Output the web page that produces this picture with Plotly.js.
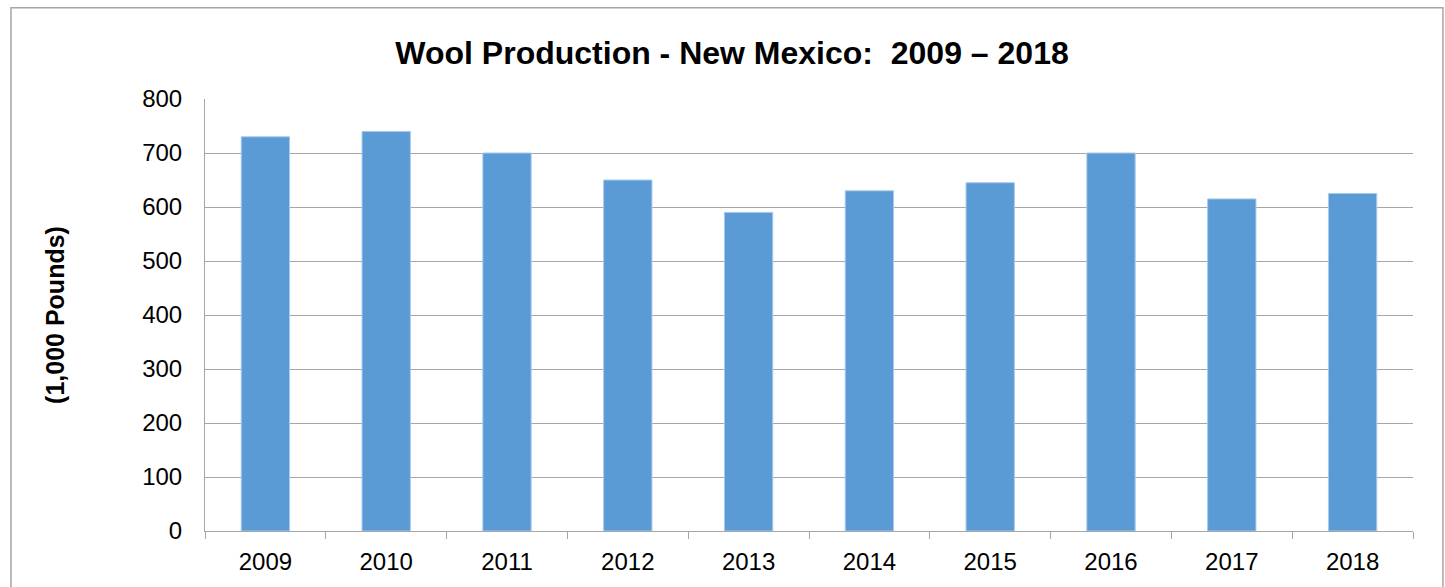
<!DOCTYPE html>
<html>
<head>
<meta charset="utf-8">
<script src="https://cdn.plot.ly/plotly-3.0.1.min.js"></script>
<style>
  body { margin: 0; background: #fff; }
  #plot { width: 1445px; height: 587px; }
</style>
</head>
<body>
<div id="plot"></div>
<script>
const years = ['2009', '2010', '2011', '2012', '2013', '2014', '2015', '2016', '2017', '2018'];
const wool = [730, 740, 700, 650, 590, 630, 645, 700, 615, 625];
const yTicks = [0, 100, 200, 300, 400, 500, 600, 700, 800];

const FONT = 'Liberation Sans, Arial, sans-serif';

let bars = {
    name: 'Wool',
    x: years,
    y: wool,
    type: 'bar',
    marker: {
        color: '#5b9bd5',
        line: { color: '#a9c9ea', width: 1 }
    },
    hoverinfo: 'x+y'
};

let layout = {
    width: 1445,
    height: 587,
    paper_bgcolor: '#ffffff',
    plot_bgcolor: '#ffffff',
    showlegend: false,
    bargap: 0.6,
    font: { family: FONT, size: 24, color: '#000000' },
    // title sits over the centre of the outer box, not the plot area
    title: {
        text: '<b>Wool Production - New Mexico:  2009 – 2018</b>',
        font: { family: FONT, size: 32, color: '#000000' },
        x: 0.5066,
        xref: 'container',
        xanchor: 'center',
        y: 0.91,
        yanchor: 'middle'
    },
    margin: { l: 205, r: 32, t: 99, b: 56 },
    xaxis: {
        type: 'category',
        showline: true,
        linecolor: '#a6a6a6',
        linewidth: 1,
        ticks: 'outside',
        tickson: 'boundaries',
        ticklen: 7,
        tickcolor: '#a6a6a6',
        showgrid: false,
        ticklabelstandoff: 9,
        tickfont: { family: FONT, size: 24, color: '#000000' }
    },
    yaxis: {
        range: [0, 800],
        tickvals: yTicks,
        showline: true,
        linecolor: '#a6a6a6',
        linewidth: 1,
        showgrid: true,
        gridcolor: '#a6a6a6',
        gridwidth: 1,
        zeroline: false,
        ticks: '',
        ticklabelstandoff: 17,
        tickfont: { family: FONT, size: 24, color: '#000000' },
        title: {
            text: '<b>(1,000 Pounds)</b>',
            font: { family: FONT, size: 25, color: '#000000' },
            standoff: 70
        }
    },
    shapes: [{
        type: 'rect',
        xref: 'paper', yref: 'paper',
        x0: -0.1606, x1: 1.0248,
        y0: -0.25, y1: 1.2115,
        line: { color: '#a6a6a6', width: 1.5 },
        fillcolor: 'rgba(0,0,0,0)',
        layer: 'below'
    }]
};

Plotly.newPlot(document.getElementById('plot'), [bars], layout, { displayModeBar: false, staticPlot: true });
</script>
</body>
</html>
